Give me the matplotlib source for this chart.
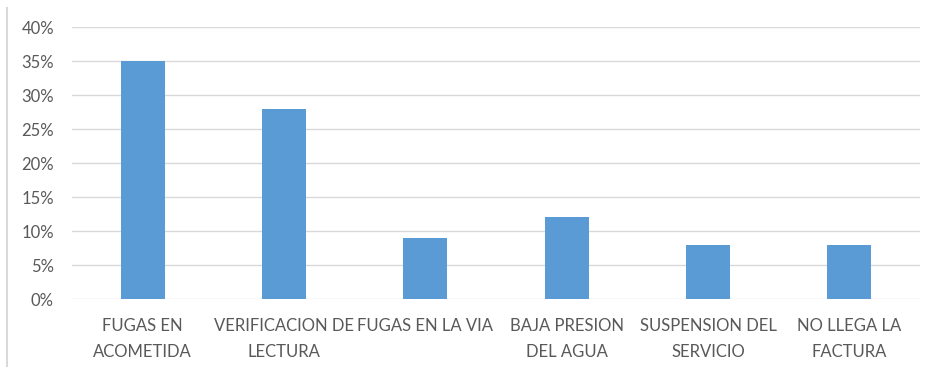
import numpy as np
import matplotlib.pyplot as plt
from matplotlib.ticker import PercentFormatter

# categorias y valores
categorias = ["FUGAS EN\nACOMETIDA", "VERIFICACION DE\nLECTURA", "FUGAS EN LA VIA",
              "BAJA PRESION\nDEL AGUA", "SUSPENSION DEL\nSERVICIO", "NO LLEGA LA\nFACTURA"]
valores = [0.35, 0.28, 0.09, 0.12, 0.08, 0.08]
yticks = [0, 0.05, 0.10, 0.15, 0.20, 0.25, 0.30, 0.35, 0.40]

plt.rcParams['font.family'] = ['Lato', 'DejaVu Sans']

fig = plt.figure(figsize=(9.26, 3.67), dpi=100)
ax = fig.add_axes([72 / 926, 1 - 299 / 367, 848 / 926, 272 / 367])

x = np.arange(len(categorias))
ax.bar(x, valores, width=0.31, color='#5B9BD5', zorder=3)

ax.set_xlim(-0.5, len(categorias) - 0.5)
ax.set_ylim(0, 0.40)
ax.set_yticks(yticks)
ax.yaxis.set_major_formatter(PercentFormatter(1.0, decimals=0))
ax.set_xticks(x)
ax.set_xticklabels(categorias, linespacing=1.75)
ax.grid(axis='y', color='#D9D9D9', linewidth=1, zorder=0)
ax.tick_params(length=0, colors='#595959', labelsize=12)
ax.tick_params(axis='y', pad=13)
ax.tick_params(axis='x', pad=14)
for s in ax.spines.values():
    s.set_visible(False)

# borde izquierdo del marco
fig.add_artist(plt.Line2D([7 / 926, 7 / 926], [0, 1 - 8 / 367], color='#D9D9D9', linewidth=1.5))

fig.savefig('out.png', dpi=100)
